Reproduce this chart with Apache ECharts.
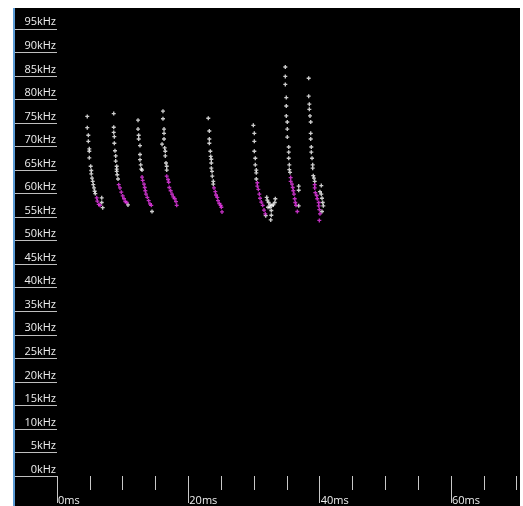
<!DOCTYPE html>
<html>
<head>
<meta charset="utf-8">
<script src="https://cdn.jsdelivr.net/npm/echarts@6/dist/echarts.min.js"></script>
<style>
  html, body { margin: 0; padding: 0; background: #ffffff; width: 523px; height: 506px; overflow: hidden; position: relative; }
  #panel { position: absolute; left: 15px; top: 8px; width: 505px; height: 498px; background: #000000; }
  #edge { position: absolute; left: 13px; top: 8px; width: 2px; height: 498px; background: #5b9bd5; z-index: 3; }
  #chart { position: absolute; left: 0; top: 0; width: 700px; height: 506px; }
  #topmask { position: absolute; left: 0; top: 0; width: 523px; height: 8px; background: #ffffff; z-index: 2; }
</style>
</head>
<body>
<div id="panel"></div>
<div id="chart"></div>
<div id="topmask"></div>
<div id="edge"></div>
<script>
// Time (ms) / frequency (kHz) readings of the call pulses
const whitePoints = [
  [4.61,76.4],[4.61,74.0],[4.77,72.4],[4.77,71.1],[4.92,69.5],[4.92,69.0],[4.92,67.6],[5.13,65.8],[5.22,64.9],[5.22,64.2],[5.33,63.3],[5.44,62.6],[5.53,61.9],[5.64,61.2],[5.74,60.5],[5.83,60.0],[6.81,59.1],[6.81,58.1],[6.96,57.0],
  [8.64,77.0],[8.64,74.1],[8.64,73.0],[8.73,72.1],[8.73,70.7],[8.83,69.1],[8.94,68.0],[8.94,66.9],[9.09,65.8],[9.09,65.2],[9.09,64.7],[9.18,64.0],[9.29,63.1],[10.81,57.6],
  [12.34,75.6],[12.34,73.7],[12.44,72.4],[12.44,71.6],[12.64,70.2],[12.64,68.3],[12.64,67.2],[12.75,66.1],[12.84,65.2],[12.95,65.0],[14.47,56.2],
  [16.14,77.5],[16.14,75.9],[16.30,73.7],[16.30,72.8],[16.30,71.6],[16.00,70.5],[16.40,69.7],[16.49,69.0],[16.49,68.0],[16.60,66.5],[16.71,65.8],[16.71,65.0],
  [23.04,76.0],[23.20,73.3],[23.20,71.6],[23.20,70.7],[23.35,69.0],[23.41,67.9],[23.50,67.3],[23.50,66.5],[23.50,65.4],[23.61,64.7],[23.65,63.7],[23.80,62.6],[23.80,62.0],
  [29.90,74.5],[30.05,72.8],[30.05,71.1],[30.05,69.0],[30.20,67.5],[30.20,66.1],[30.35,65.0],[30.35,64.4],[30.35,63.1],
  [31.94,59.2],[32.03,58.6],[32.24,58.1],[32.44,57.6],[32.74,57.5],[32.94,57.6],[33.25,58.9],[33.16,58.1],[32.14,57.1],[32.44,57.1],[32.64,56.4],[32.64,55.4],[32.55,54.4],[31.79,55.3],
  [34.77,86.9],[34.77,84.9],[34.77,83.2],[34.92,80.4],[34.92,78.6],[34.92,76.5],[35.07,75.2],[35.07,73.7],[35.07,72.0],[35.29,69.9],[35.29,68.8],[35.29,67.5],[35.38,66.1],[35.38,65.1],[35.49,64.5],[36.81,61.6],[36.81,60.7],[36.81,57.4],
  [38.33,84.5],[38.33,80.7],[38.43,79.0],[38.43,77.9],[38.53,76.5],[38.64,75.2],[38.64,72.8],[38.64,71.6],[38.73,69.9],[38.73,68.8],[38.84,67.5],[38.94,66.1],[38.94,65.4],[39.03,63.8],[39.14,63.3],[39.25,62.6],
  [40.25,61.7],[40.05,60.4],[40.25,59.9],[40.36,59.0],[40.47,58.1],[40.56,57.4],[40.36,56.2]
];
const magentaPoints = [
  [6.05,59.1],[6.14,58.4],[6.35,57.7],[6.55,57.5],
  [9.40,61.9],[9.59,61.2],[9.79,60.3],[10.01,59.5],[10.21,58.9],[10.40,58.3],[10.62,58.1],
  [12.95,63.5],[13.05,62.8],[13.25,62.0],[13.36,61.3],[13.45,60.6],[13.55,59.9],[13.75,59.2],[13.96,58.5],[14.16,57.8],[14.36,57.5],
  [16.71,63.7],[16.91,63.0],[17.01,62.4],[17.10,61.3],[17.31,60.6],[17.51,59.9],[17.71,59.3],[17.93,58.9],[18.12,58.3],[18.23,57.5],
  [23.91,61.2],[24.11,60.4],[24.22,59.7],[24.41,59.2],[24.52,58.5],[24.72,57.9],[24.93,57.5],[25.03,57.1],[25.13,56.1],
  [30.51,62.3],[30.51,61.6],[30.66,60.9],[30.81,59.9],[30.92,59.0],[31.11,58.2],[31.33,57.5],[31.53,56.5],[31.72,55.7],
  [35.59,63.4],[35.59,62.6],[35.79,62.0],[35.90,61.3],[35.99,60.6],[36.09,59.9],[36.20,58.9],[36.29,58.1],[36.40,57.5],[36.60,56.2],
  [39.25,61.9],[39.25,61.2],[39.34,60.2],[39.55,59.6],[39.64,58.9],[39.86,58.1],[39.86,57.4],[39.95,56.6],[40.05,55.7],[39.95,54.3]
];
const timeUnit = 'ms';
const freqUnit = 'kHz';
const yTickValues = [0,5,10,15,20,25,30,35,40,45,50,55,60,65,70,75,80,85,90,95];
const xTickValues = [0,20,40,60];

const FONT = '"Open Sans", "Liberation Sans", sans-serif';
const cross = 'path://M1 0h1v1h1v1h-1v1h-1v-1h-1v-1h1z';
const chart = echarts.init(document.getElementById('chart'), null, { renderer: 'canvas' });
chart.setOption({
  animation: false,
  grid: { left: 57, top: 5.3, width: 525.3, height: 473.7 },
  xAxis: {
    type: 'value', min: 0, max: 80, interval: 20,
    axisLine: { show: false }, splitLine: { show: false },
    axisTick: { show: true, length: 27, lineStyle: { color: '#c8c8c8', width: 1 } },
    minorTick: { show: true, splitNumber: 4, length: 14, lineStyle: { color: '#c8c8c8', width: 1 } },
    axisLabel: {
      formatter: v => xTickValues.indexOf(v) >= 0 ? v + timeUnit : '',
      align: 'left', verticalAlign: 'top', margin: 19, padding: [0, 0, 0, 1],
      color: '#eeeeee', fontFamily: FONT, fontSize: 11
    }
  },
  yAxis: {
    type: 'value', min: 0, max: 100, interval: 5,
    axisLine: { show: false }, splitLine: { show: false },
    axisTick: { show: true, length: 42, lineStyle: { color: '#bfbfbf', width: 1 } },
    axisLabel: {
      formatter: v => yTickValues.indexOf(v) >= 0 ? v + freqUnit : '',
      align: 'right', verticalAlign: 'bottom', margin: 1, padding: [0, 0, 1, 0],
      color: '#eeeeee', fontFamily: FONT, fontSize: 11
    }
  },
  series: [
    { type: 'scatter', data: whitePoints, symbol: cross, symbolSize: 4, itemStyle: { color: '#ffffff' }, silent: true },
    { type: 'scatter', data: magentaPoints, symbol: cross, symbolSize: 4, itemStyle: { color: '#f23cf2' }, silent: true }
  ]
});
</script>
</body>
</html>
